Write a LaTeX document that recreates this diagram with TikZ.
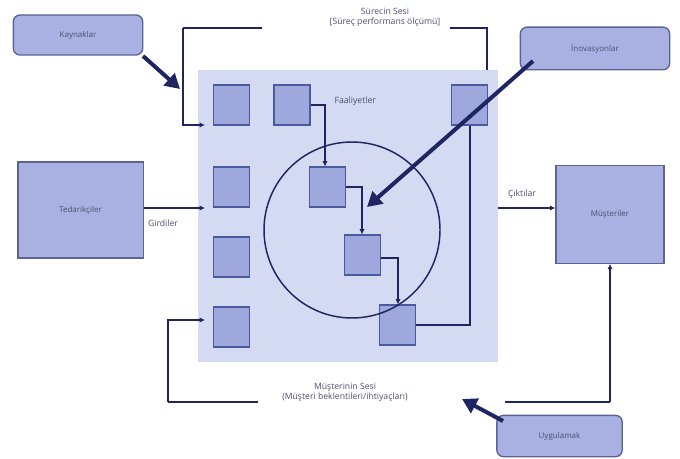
\documentclass[tikz,border=0pt]{standalone}
\usepackage{fontspec}
\setmainfont{Open Sans}
\usetikzlibrary{arrows.meta,calc}
\definecolor{bgsq}{HTML}{D3DAF2}
\definecolor{smfill}{HTML}{9EA8DC}
\definecolor{smline}{HTML}{4A5A9E}
\definecolor{boxfill}{HTML}{A9B1E3}
\definecolor{boxline}{HTML}{5A6296}
\definecolor{navy}{HTML}{1E2560}
\definecolor{txt}{HTML}{4A5070}
\tikzset{
  sq/.style={draw=smline, fill=smfill, line width=0.8pt, minimum width=27pt, minimum height=30pt, inner sep=0pt},
  rbox/.style={draw=boxline, fill=boxfill, line width=1pt, rounded corners=5pt, inner sep=0pt, font=\fontsize{6}{7}\selectfont, text=txt},
  bbox/.style={draw=boxline, fill=boxfill, line width=1pt, inner sep=0pt, font=\fontsize{6}{7}\selectfont, text=txt},
  lbl/.style={font=\fontsize{6.5}{7.5}\selectfont, text=txt, inner sep=1pt, align=center},
  conn/.style={draw=navy, line width=1.1pt, -{Latex[length=4pt,width=4pt]}},
  plain/.style={draw=navy, line width=1.1pt},
  thick/.style={draw=navy, line width=3pt, -{Triangle[length=11pt,width=12pt]}}
}
\begin{document}
\begin{tikzpicture}[x=0.75pt,y=-0.75pt]
\useasboundingbox (0,0) rectangle (680,459);
% big process area
\node[fill=bgsq, minimum width=225pt, minimum height=219pt, inner sep=0pt] (proc) at (348,216) {};
% left column squares
\node[sq] (s1) at (231.5,105) {};
\node[sq] (s2) at (231.5,187) {};
\node[sq] (s3) at (231.5,257) {};
\node[sq] (s4) at (231.5,327) {};
\node[sq] (s5) at (292,105) {};
\node[sq] (s6) at (469.5,105) {};
\node[sq] (c1) at (327.5,187) {};
\node[sq] (c2) at (362.5,255) {};
\node[sq] (c3) at (397.5,325) {};
% circle
\node[draw=navy, line width=1.1pt, circle, minimum size=132pt, inner sep=0pt] (circ) at (352,230) {};
\node[lbl, anchor=west] (fa) at (333,101) {Faaliyetler};
% internal connectors
\draw[conn] (s5.east |- 0,105) -| (c1.north -| 325,0);
\draw[conn] (c1.east |- 0,187) -| (c2.north -| 362,0);
\draw[conn] (c2.east |- 0,258) -| (c3.north -| 398,0);
\draw[plain] (c3.east |- 0,325) -| (s6.south -| 470,0);
% external boxes
\node[rbox, minimum width=97pt, minimum height=30pt] (kay) at (78,35) {Kaynaklar};
\node[rbox, minimum width=112pt, minimum height=32pt] (ino) at (595,48.5) {İnovasyonlar};
\node[rbox, minimum width=94pt, minimum height=31pt] (uyg) at (559.5,436) {Uygulamak};
\node[bbox, minimum width=94pt, minimum height=72pt] (ted) at (80.5,210) {Tedarikçiler};
\node[bbox, minimum width=81pt, minimum height=73pt] (mus) at (610,214.5) {Müşteriler};
% inputs / outputs
\coordinate (inL) at (205,208);
\draw[conn] (ted.east |- inL) -- (inL);
\node[lbl] (gir) at (163,223) {Girdiler};
\coordinate (outL) at (498,208);
\draw[conn] (outL) -- (mus.west |- outL);
\node[lbl] (cik) at (522,194) {Çıktılar};
% voice of the process
\node[lbl] (vop) at (385,17) {Sürecin Sesi\\{[}Süreç performans ölçümü{]}};
\coordinate (p1) at (183,28);
\coordinate (p2) at (487,28);
\draw[plain] (262,28) -- (p1);
\draw[conn] (p1) -- (183,125) -- (205,125);
\draw[plain] (450,28) -- (p2) -- (487,70);
% voice of the customer
\node[lbl] (voc) at (345,392) {Müşterinin Sesi\\(Müşteri beklentileri/ihtiyaçları)};
\coordinate (q1) at (168,402);
\draw[plain] (258,402) -- (q1);
\draw[conn] (q1) -- (168,320) -- (205,320);
\coordinate (q2) at (610,402);
\draw[plain] (505,402) -- (q2);
\draw[conn] (q2) -- (mus.south -| q2);
% thick arrows
\draw[thick] (143,56) -- (180,89);
\draw[thick] (533,61) -- (367,207);
\draw[thick] (503,421) -- (462,399);
\end{tikzpicture}
\end{document}
